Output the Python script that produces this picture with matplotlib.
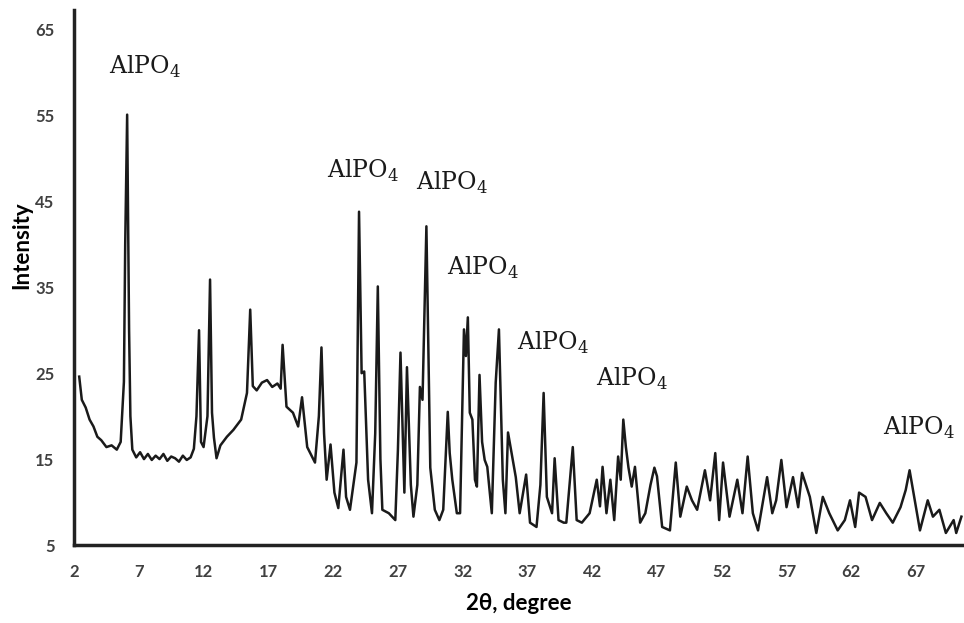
# XRD pattern with AlPO4 peak labels
import matplotlib.pyplot as plt
import numpy as np

# 2-theta (degree) and intensity
two_theta = [
    2.4, 2.6, 2.9, 3.2, 3.5, 3.8, 4.1, 4.5, 4.9, 5.3, 5.6, 5.85, 5.95, 6.1, 6.25, 6.35, 6.5,
    6.8, 7.1, 7.4, 7.7, 8.0, 8.3, 8.6, 8.9, 9.2, 9.5, 9.8, 10.1, 10.4, 10.7, 11.0, 11.25,
    11.45, 11.65, 11.8, 12.0, 12.3, 12.5, 12.65, 12.8, 13.0, 13.3, 13.8, 14.3, 14.9, 15.35,
    15.6, 15.8, 16.1, 16.5, 16.9, 17.3, 17.7, 17.95, 18.1, 18.4, 18.9, 19.3, 19.6, 20.0,
    20.6, 20.9, 21.1, 21.3, 21.5, 21.8, 22.1, 22.4, 22.8, 23.0, 23.3, 23.8, 24.0, 24.2,
    24.4, 24.7, 25.0, 25.25, 25.45, 25.65, 25.8, 26.3, 26.8, 27.0, 27.2, 27.5, 27.7, 28.0,
    28.2, 28.5, 28.7, 28.9, 29.2, 29.5, 29.85, 30.2, 30.5, 30.85, 31.0, 31.2, 31.55, 31.8,
    32.1, 32.25, 32.4, 32.55, 32.75, 32.95, 33.1, 33.3, 33.5, 33.7, 33.9, 34.25, 34.55,
    34.8, 35.1, 35.3, 35.5, 35.9, 36.1, 36.4, 36.9, 37.2, 37.7, 38.0, 38.25, 38.5, 38.9,
    39.1, 39.4, 39.8, 40.0, 40.5, 40.8, 41.2, 41.8, 42.35, 42.6, 42.8, 43.1, 43.4, 43.7,
    44.0, 44.2, 44.4, 44.6, 44.8, 45.05, 45.3, 45.7, 46.1, 46.5, 46.8, 47.0, 47.4, 48.0,
    48.45, 48.8, 49.3, 49.7, 50.1, 50.7, 51.1, 51.5, 51.8, 52.1, 52.6, 53.2, 53.6, 54.0,
    54.4, 54.8, 55.5, 55.9, 56.2, 56.6, 57.0, 57.5, 57.9, 58.2, 58.8, 59.3, 59.8, 60.3,
    60.95, 61.5, 61.9, 62.3, 62.6, 63.1, 63.6, 64.2, 64.7, 65.2, 65.8, 66.2, 66.5, 66.9,
    67.3, 67.9, 68.3, 68.8, 69.3, 69.9, 70.1, 70.5,
]
intensity = [
    24.6, 21.9, 21.0, 19.6, 18.8, 17.6, 17.2, 16.4, 16.6, 16.1, 17.0, 24.0, 40.0, 55.1, 30.0, 20.0, 16.1,
    15.2, 15.8, 15.0, 15.6, 14.9, 15.4, 15.0, 15.6, 14.8, 15.3, 15.1, 14.7, 15.4, 14.9, 15.2, 16.2,
    20.0, 30.0, 17.0, 16.4, 20.0, 35.9, 20.4, 17.5, 15.1, 16.6, 17.6, 18.4, 19.6, 22.7,
    32.4, 23.5, 23.0, 23.9, 24.2, 23.4, 23.8, 23.2, 28.3, 21.1, 20.4, 18.8, 22.2, 16.4,
    14.6, 20.0, 28.0, 18.0, 12.6, 16.7, 11.1, 9.3, 16.1, 10.6, 9.1, 14.6, 43.8, 25.0,
    25.2, 12.6, 8.7, 18.0, 35.1, 15.0, 9.1, 8.7, 7.9, 16.0, 27.4, 11.1, 25.7, 12.0,
    8.3, 12.0, 23.4, 21.9, 42.1, 14.0, 9.1, 7.9, 9.1, 20.5, 15.7, 12.6, 8.7, 8.7,
    30.1, 27.0, 31.5, 20.4, 19.6, 12.6, 11.8, 24.8, 17.0, 14.9, 14.1, 8.7, 23.9,
    30.1, 12.6, 8.7, 18.1, 14.6, 12.9, 8.7, 13.2, 7.6, 7.1, 12.0, 22.7, 10.6, 8.7,
    15.1, 7.9, 7.6, 7.6, 16.4, 7.9, 7.6, 8.7, 12.6, 9.5, 14.1, 8.7, 12.6, 7.9,
    15.3, 12.6, 19.6, 16.4, 14.0, 11.8, 14.1, 7.6, 8.7, 12.0, 14.0, 13.0, 7.1, 6.7,
    14.6, 8.3, 11.8, 10.2, 9.1, 13.7, 10.2, 15.7, 7.9, 14.6, 8.3, 12.6, 8.7, 15.3,
    8.7, 6.7, 12.9, 8.7, 10.2, 14.9, 9.4, 12.9, 9.4, 13.4, 10.6, 6.4, 10.6, 8.7,
    6.7, 7.9, 10.2, 7.1, 11.1, 10.6, 7.9, 9.9, 8.7, 7.6, 9.4, 11.4, 13.7, 10.2,
    6.7, 10.2, 8.3, 9.1, 6.4, 7.9, 6.4, 8.3,
]

# peak labels (x, y) in data units
label_x = [7.5, 24.3, 31.2, 33.6, 39.0, 45.1, 67.2]
label_y = [60.7, 48.5, 47.1, 37.3, 28.5, 24.3, 18.6]

fig = plt.figure(figsize=(9.64, 6.23), dpi=100)
ax = fig.add_axes([0.0768, 0.1252, 0.9232, 0.859])

ax.plot(two_theta, intensity, color='#1a1a1a', linewidth=1.8)

for x, y in zip(label_x, label_y):
    ax.text(x, y, 'AlPO$_\\mathregular{4}$', ha='center', va='center',
            fontsize=17, family='DejaVu Serif', color='#1a1a1a')

ax.set_xlim(2, 70.7)
ax.set_ylim(5, 67.3)
ax.set_xticks(np.arange(2, 68, 5))
ax.set_yticks(np.arange(5, 66, 10))
ax.tick_params(length=0, pad=14, labelsize=12, labelcolor='#404040')
for lab in ax.get_xticklabels() + ax.get_yticklabels():
    lab.set_family('Lato')
    lab.set_fontweight('bold')

for side in ['top', 'right']:
    ax.spines[side].set_visible(False)
for side in ['left', 'bottom']:
    ax.spines[side].set_linewidth(2.5)
    ax.spines[side].set_color('#222222')

ax.set_xlabel('2θ, degree', family='Lato', fontweight='bold', fontsize=16)
ax.set_ylabel('Intensity', family='Lato', fontweight='bold', fontsize=16)
ax.xaxis.set_label_coords(0.5, -0.09)
ax.yaxis.set_label_coords(-0.047, 0.56)

plt.savefig('out.png', dpi=100)
